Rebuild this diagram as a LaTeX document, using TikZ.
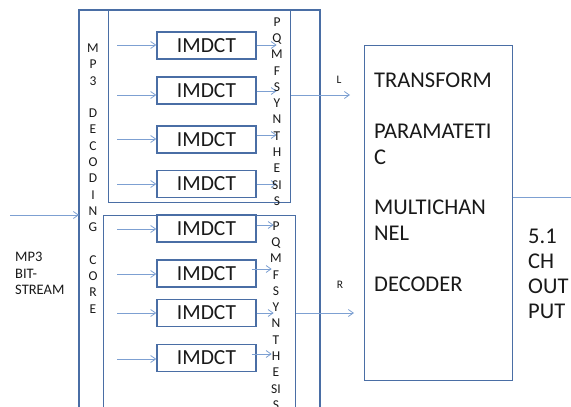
\documentclass[tikz,border=0pt]{standalone}
\usepackage{fontspec}
\setmainfont{Carlito}
\usetikzlibrary{arrows.meta}
\definecolor{boxline}{RGB}{74,110,165}
\definecolor{arrline}{RGB}{125,160,210}
\definecolor{ink}{RGB}{25,25,25}
\tikzset{
  frame/.style={draw=boxline,line width=1.4pt},
  dctbox/.style={draw=boxline,line width=1.4pt,minimum width=99pt,minimum height=27pt,
    inner sep=0pt,font=\fontsize{21.5}{24}\selectfont,text=ink},
  arr/.style={draw=arrline,line width=0.8pt,-{Straight Barb[length=5pt,width=7pt]}},
  plain/.style={draw=arrline,line width=0.8pt},
  stack/.style={align=center,inner sep=0pt,text=ink,font=\fontsize{13.5}{16.3}\selectfont},
  small/.style={inner sep=0pt,text=ink,font=\fontsize{11.5}{13}\selectfont},
  big/.style={align=left,inner sep=0pt,text=ink,anchor=north west}
}
\begin{document}
\begin{tikzpicture}[x=1pt,y=-1pt]
\useasboundingbox (0,0) rectangle (571,407);

% decoding core frame and the two sub-band groups
\draw[frame] (79,430) -- (79,10) -- (320,10) -- (320,430);
\node[frame,inner sep=0pt,minimum width=182pt,minimum height=192pt,anchor=north west] (grpL) at (108,10) {};
\node[frame,inner sep=0pt,minimum width=192pt,minimum height=220pt,anchor=north west] (grpR) at (103,215) {};
\coordinate (coreW) at (79,215);

% IMDCT blocks
\node[dctbox] (b1) at (206.5,45.5) {IMDCT};
\node[dctbox] (b2) at (206.5,90.5) {IMDCT};
\node[dctbox] (b3) at (206.5,139.5) {IMDCT};
\node[dctbox] (b4) at (206.5,184) {IMDCT};
\node[dctbox] (b5) at (206.5,228.5) {IMDCT};
\node[dctbox] (b6) at (206.5,273.5) {IMDCT};
\node[dctbox] (b7) at (206.5,313) {IMDCT};
\node[dctbox] (b8) at (206.5,358) {IMDCT};

% inputs to the IMDCT blocks
\draw[arr] ([yshift=0.5pt]b1.west) ++(-39,0) -- ++(39,0);
\draw[arr] ([yshift=-4.5pt]b2.west) ++(-39,0) -- ++(39,0);
\draw[arr] ([yshift=0.5pt]b3.west) ++(-39,0) -- ++(39,0);
\draw[arr] (b4.west) ++(-39,0) -- ++(39,0);
\draw[arr] ([yshift=-0.5pt]b5.west) ++(-39,0) -- ++(39,0);
\draw[arr] ([yshift=-0.5pt]b6.west) ++(-39,0) -- ++(39,0);
\draw[arr] (b7.west) ++(-39,0) -- ++(39,0);
\draw[arr] ([yshift=-1pt]b8.west) ++(-39,0) -- ++(39,0);

% outputs into the PQMF synthesis
\draw[arr] ([yshift=0.5pt]b1.east) -- ++(20,0);
\draw[arr] ([yshift=-0.5pt]b2.east) -- ++(20,0);
\draw[arr] ([yshift=4.5pt]b3.east) -- ++(20,0);
\draw[arr] (b4.east) -- ++(20,0);
\draw[arr] ([yshift=3.5pt]b5.east) -- ++(17,0);
\draw[arr] ([xshift=-5pt,yshift=4.5pt]b6.east) -- ++(20,0);
\draw[arr] (b7.east) -- ++(17,0);
\draw[arr] ([xshift=-5pt,yshift=4pt]b8.east) -- ++(20,0);

% vertical labels
\node[stack] (core) at (93,178.5) {M\\P\\3\\ \\D\\E\\C\\O\\D\\I\\N\\G\\ \\C\\O\\R\\E};
\node[stack] (pqmfL) at (277,111.5) {P\\Q\\M\\F\\S\\Y\\N\\T\\H\\E\\SI\\S};
\node[stack] (pqmfR) at (276,315.5) {P\\Q\\M\\F\\S\\Y\\N\\T\\H\\E\\SI\\S};

% bit-stream input
\coordinate (src) at (10,215);
\draw[arr] (src) -- (coreW);
\node[align=left,inner sep=0pt,anchor=west,text=ink,font=\fontsize{14.5}{16.5}\selectfont] (bits) at (15,273.5) {MP3\\BIT-\\STREAM};

% multichannel decoder
\node[frame,inner sep=0pt,minimum width=148pt,minimum height=335pt,anchor=north west] (dec) at (364,45) {};
\node[big,font=\fontsize{22.5}{25.4}\selectfont] (dectext) at (374,73)
  {TRANSFORM\\[25.4pt]PARAMATETI\\C\\[25.4pt]MULTICHAN\\NEL\\[25.4pt]DECODER};

% left and right channels
\draw[arr] (grpL.east |- 0,95) -- (350,95);
\node[small] (lblL) at (339,80) {L};
\draw[arr] (grpR.east |- 0,313) -- (354,313);
\node[small] (lblR) at (340,285) {R};

% 5.1 output
\coordinate (outEnd) at (571,197);
\draw[plain] (dec.east |- outEnd) -- (outEnd);
\node[big,font=\fontsize{22.5}{25}\selectfont] (out) at (528,229) {5.1\\CH\\OUT\\PUT};
\end{tikzpicture}
\end{document}
